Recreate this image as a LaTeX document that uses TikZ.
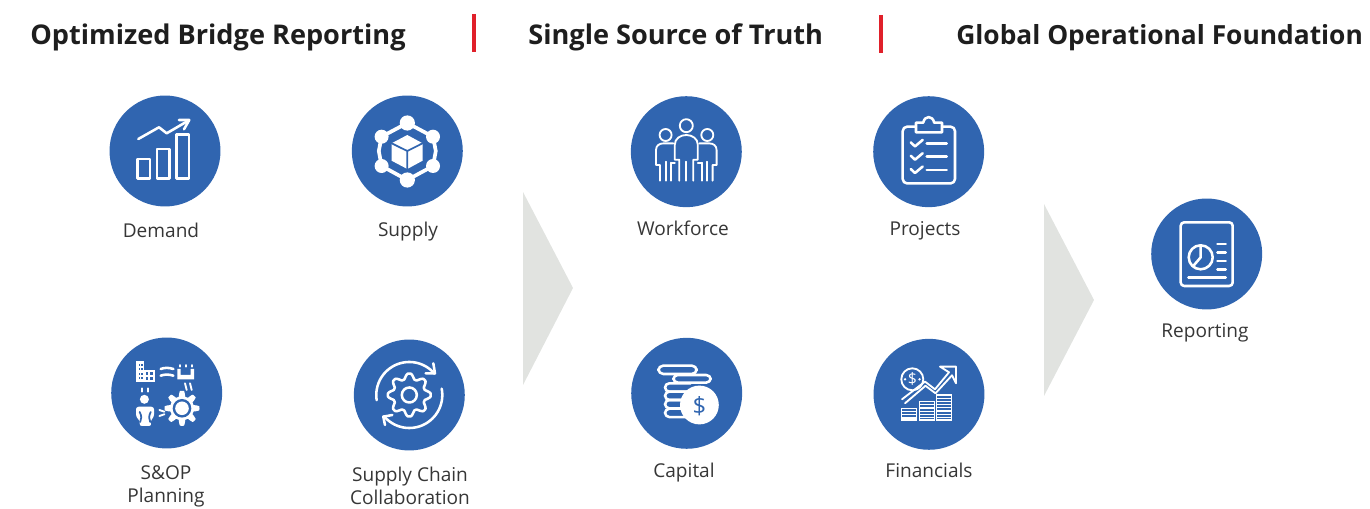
\documentclass[tikz,border=0pt]{standalone}
\usepackage{fontspec}
\setmainfont{Open Sans}
\definecolor{iconblue}{HTML}{3065B0}
\definecolor{chev}{HTML}{E1E3E0}
\definecolor{redbar}{HTML}{E0202A}
\definecolor{labelgray}{HTML}{363636}
\definecolor{headdark}{HTML}{1E1E1E}
\tikzset{
  iconcircle/.style={circle,fill=iconblue,minimum size=2.22cm,inner sep=0pt,draw=none},
  lbl/.style={font=\fontsize{10.85}{13.1}\selectfont,text=labelgray,inner sep=0pt,align=center},
  heading/.style={font=\fontsize{15.45}{18}\selectfont\bfseries,text=headdark,inner sep=0pt,anchor=base west},
  iline/.style={draw=white,line width=1.45pt,line cap=round,line join=round,fill=none},
  thinline/.style={draw=white,line width=1.05pt,line cap=round,line join=round,fill=none},
  blueline/.style={draw=iconblue,line width=1pt,line cap=round,line join=round},
  wfill/.style={fill=white,draw=none},
  chevron/.style={fill=chev,draw=none},
  divider/.style={draw=redbar,line width=1.9pt}
}
\newcommand{\gearshape}[4]{plot[domain=0:360,samples=193] ({(#1+#2*max(-1,min(1,#4*cos(8*\x+#3))))*cos(\x)},{(#1+#2*max(-1,min(1,#4*cos(8*\x+#3))))*sin(\x)})}
\begin{document}
\begin{tikzpicture}[x=0.02cm,y=-0.02cm]
\useasboundingbox (0,0) rectangle (1370,509);
% headings
\node[heading] (h1) at (30,45) {Optimized Bridge Reporting};
\node[heading] (h2) at (528,45) {Single Source of Truth};
\node[heading,font=\fontsize{15.0}{18}\selectfont\bfseries] (h3) at (956,45) {Global Operational Foundation};
\draw[divider] (474,14) -- (474,52);
\draw[divider] (881,15) -- (881,53);
% chevrons
\fill[chevron] (523,192) -- (573,288) -- (523,385) -- cycle;
\fill[chevron] (1044,204) -- (1094,300) -- (1044,396) -- cycle;
% circles
\node[iconcircle] (demand) at (165,151) {};
\node[iconcircle] (supply) at (407.3,151) {};
\node[iconcircle] (sop) at (166.7,393) {};
\node[iconcircle] (chain) at (409.3,395) {};
\node[iconcircle] (work) at (686.3,151.7) {};
\node[iconcircle] (proj) at (928.7,151.7) {};
\node[iconcircle] (capital) at (686.7,393.3) {};
\node[iconcircle] (fin) at (929,394.3) {};
\node[iconcircle] (rep) at (1206.7,254) {};
% labels
\node[lbl,anchor=base] (l1) at (161,238) {Demand};
\node[lbl,anchor=base] (l2) at (408,237) {Supply};
\node[lbl] (l3) at (166,486) {S\&OP\\Planning};
\node[lbl] (l4) at (410,486) {Supply Chain\\Collaboration};
\node[lbl,anchor=base] (l5) at (683,236) {Workforce};
\node[lbl,anchor=base] (l6) at (925,236) {Projects};
\node[lbl,anchor=base] (l7) at (684,478) {Capital};
\node[lbl,anchor=base] (l8) at (929,478) {Financials};
\node[lbl,anchor=base] (l9) at (1205,338) {Reporting};
% Demand icon
\begin{scope}[shift={(demand.center)}]
\draw[iline] (-27.3,8) rectangle (-15,27.3);
\draw[iline] (-8,-2) rectangle (4.3,27.3);
\draw[iline] (11.3,-16.7) rectangle (24,27.3);
\draw[iline] (-26.7,-12) -- (-6,-23.7) -- (1.7,-17.7) -- (23.3,-30.3);
\draw[iline] (14,-31) -- (24.3,-31) -- (19,-21.7);
\end{scope}
% Supply icon
\begin{scope}[shift={(supply.center)}]
\draw[draw=white,line width=2.1pt,line join=round] (0,-28) -- (-25.7,-14.3) -- (-28.5,0) -- (-25.7,15) -- (0,29) -- (25.7,15) -- (28.5,0) -- (25.7,-14.3) -- cycle;
\foreach \p in {(0,-28),(0,29)} \fill[wfill] \p circle (7.6);
\foreach \p in {(-25.7,-14.3),(25.7,-14.3),(-25.7,15),(25.7,15)} \fill[wfill] \p circle (7);
\fill[wfill] (0,-16) -- (15.3,-7.7) -- (15.3,9.7) -- (0,18) -- (-15.7,9.7) -- (-15.7,-7.7) -- cycle;
\draw[blueline] (-15.7,-7.7) -- (0,0) -- (15.3,-7.7) (0,0) -- (0,18);
\end{scope}
% S&OP icon
\begin{scope}[shift={(sop.center)}]
\fill[wfill] (-31,-32.3) rectangle (-22.7,-11.3);
\fill[wfill] (-22.7,-23) rectangle (-11.7,-11.3);
\foreach \yy in {-29,-24.5,-20,-15.5} {\fill[iconblue] (-28,\yy) rectangle (-26.6,\yy+2); \fill[iconblue] (-25.4,\yy) rectangle (-24,\yy+2);}
\foreach \yy in {-20.5,-15.8} {\fill[iconblue] (-20.8,\yy) rectangle (-18.4,\yy+2.4); \fill[iconblue] (-16.4,\yy) rectangle (-14,\yy+2.4);}
\draw[iline] (-6,-24) .. controls (-2,-25.5) and (2,-25.5) .. (6.7,-24);
\draw[iline] (-6,-17.3) .. controls (-2,-18.8) and (2,-18.8) .. (6.7,-17.3);
\fill[wfill] (10.7,-24) -- (14,-24) -- (14,-18) -- (24,-18) -- (24,-24) -- (27.3,-24) -- (27.3,-13.7) -- (10.7,-13.7) -- cycle;
\draw[thinline] (13,-28) -- (13,-26.3) (19,-28) -- (19,-26.3) (25,-28) -- (25,-26.3);
\draw[thinline] (18.3,-9.7) -- (20,-3) (23.3,-9.7) -- (25,-3);
\draw[thinline] (-24.3,-4.7) -- (-24.3,-1.3) (-18.3,-4.7) -- (-18.3,-1.3);
\fill[wfill] (-22.3,6.3) circle (4.5);
\fill[wfill,rounded corners=1.5pt] (-30.7,13.7) -- (-12.7,13.7) -- (-12.7,24) -- (-16.5,28) -- (-15,33) -- (-27.5,33) -- (-26.5,28) -- (-30.7,24) -- cycle;
\draw[blueline] (-27,19) .. controls (-25,23) and (-25,26) .. (-26.5,29);
\draw[blueline] (-16,19) .. controls (-18,23) and (-18,26) .. (-16.5,29);
\draw[thinline] (-7.3,17) -- (-2.3,18.7) (-7.3,23) -- (-2.3,21.3);
\begin{scope}[shift={(15.3,15.3)}]
\fill[wfill] \gearshape{14.7}{2.8}{0}{1.7} -- cycle;
\fill[iconblue] (0,0) circle (9.3);
\fill[wfill] (0,0) circle (6.8);
\end{scope}
\end{scope}
% Supply chain icon
\begin{scope}[shift={(chain.center)}]
\draw[iline] \gearshape{18.8}{2.6}{0}{1.2} -- cycle;
\draw[iline] (0,0) circle (7.5);
\draw[iline] plot[domain=171:320,samples=50] ({33*cos(\x)},{33*sin(\x)});
\draw[iline] (16.3,-21.7) -- (25.7,-21.7) -- (24,-31.7);
\draw[iline] plot[domain=-11:140,samples=50] ({33*cos(\x)},{33*sin(\x)});
\draw[iline] (-17,20) -- (-26,21.7) -- (-24.3,30);
\end{scope}
% Workforce icon
\begin{scope}[shift={(work.center)}]
\draw[thinline] (0,-26) circle (6.5);
\draw[thinline] (-20.7,-16.7) circle (6);
\draw[thinline] (21,-16.7) circle (6);
\draw[thinline] (-7,29) -- (-7,8) -- (-11.5,8) -- (-11.5,-7) .. controls (-11.5,-13) and (-6,-16.7) .. (0,-16.7) .. controls (6,-16.7) and (11.5,-13) .. (11.5,-7) -- (11.5,8) -- (7,8) -- (7,29);
\draw[thinline] (0,10) -- (0,29);
\draw[thinline] (-26.3,29) -- (-26.3,13.3) -- (-30.3,13.3) -- (-30.3,-1.7) .. controls (-30.3,-6) and (-27,-8.3) .. (-23,-8.3) -- (-13,-8.3);
\draw[thinline] (-20.7,10) -- (-20.7,29) (-15.3,11) -- (-15.3,29) (-15.3,11) -- (-11.5,11);
\draw[thinline] (26.3,29) -- (26.3,13.3) -- (30.3,13.3) -- (30.3,-1.7) .. controls (30.3,-6) and (27,-8.3) .. (23,-8.3) -- (13,-8.3);
\draw[thinline] (20.7,10) -- (20.7,29) (15.3,11) -- (15.3,29) (15.3,11) -- (11.5,11);
\end{scope}
% Projects icon
\begin{scope}[shift={(proj.center)}]
\draw[iline,rounded corners=2.5pt] (-26,-25) rectangle (26.3,31.7);
\draw[iline,fill=iconblue] (-12.7,-19.3) -- (-12.7,-29) -- (-5.5,-29) .. controls (-4,-36.5) and (4,-36.5) .. (5.5,-29) -- (13.3,-29) -- (13.3,-19.3) -- cycle;
\foreach \yy in {-8.3,5,18.3} {
  \draw[iline] (-18,\yy-1) -- (-13.7,\yy+3) -- (-6,\yy-3.5);
  \draw[iline] (-2,\yy) -- (18,\yy);
}
\end{scope}
% Capital icon
\begin{scope}[shift={(capital.center)}]
\draw[iline,rounded corners=2.8pt] (-28.3,-27.7) rectangle (10,-19.3);
\draw[iline,rounded corners=2.5pt] (-13.3,-18.3) rectangle (24,-10.7);
\foreach \yy in {-10,-1.7,6.7,15.4} \draw[iline,rounded corners=2.5pt] (4,\yy) -- (-21.7,\yy) -- (-21.7,\yy+8.4) -- (4,\yy+8.4);
\fill[wfill] (12.7,11.7) circle (19.4);
\node[text=iconblue,inner sep=0pt,font=\fontsize{13.5}{13.5}\selectfont] (dollar1) at (12.7,12.5) {\$};
\end{scope}
% Financials icon
\begin{scope}[shift={(fin.center)}]
\draw[thinline] (-16.7,-15) circle (11);
\node[text=white,inner sep=0pt,font=\fontsize{9}{9}\selectfont] (dollar2) at (-16.7,-15) {\$};
\fill[wfill] (-24,-15) circle (1.3) (-9.5,-15) circle (1.3);
\draw[thinline] (-27,5) -- (-4,-12.7) -- (6,-5) -- (20,-22);
\draw[thinline] (-24,9) -- (-3.5,-8.5) -- (6.5,-1) -- (23,-19);
\draw[thinline] (20,-22) -- (11,-27.7) -- (27,-27.7) -- (27,-11) -- (23,-19);
\foreach \xa/\xb/\ya in {-27.3/-12.3/14,-9.7/5.3/7.3,7.7/22.7/0.7} {
  \draw[draw=white,line width=0.75pt] (\xa,\ya) rectangle (\xb,25.7);
  \pgfmathsetmacro{\yb}{\ya+3.2}
  \foreach \yy in {\yb,{\ya+6.4},{\ya+9.6},{\ya+12.8},{\ya+16},{\ya+19.2},{\ya+22.4}} {
    \pgfmathparse{\yy<24.5?1:0}
    \ifnum\pgfmathresult=1 \draw[draw=white,line width=0.75pt] (\xa,\yy) -- (\xb,\yy);\fi
  }
}
\end{scope}
% Reporting icon
\begin{scope}[shift={(rep.center)}]
\draw[iline,rounded corners=2pt] (-26,-31.7) rectangle (26,32);
\draw[iline] (-6,3.3) circle (12);
\draw[iline] (-6,-8.7) -- (-6,3.3) -- (-13,11.5);
\foreach \yy in {-10,-1.3,7,15.3} \draw[iline] (10.7,\yy) -- (19,\yy);
\draw[iline] (-18.3,23.3) -- (19,23.3);
\end{scope}
\end{tikzpicture}
\end{document}
